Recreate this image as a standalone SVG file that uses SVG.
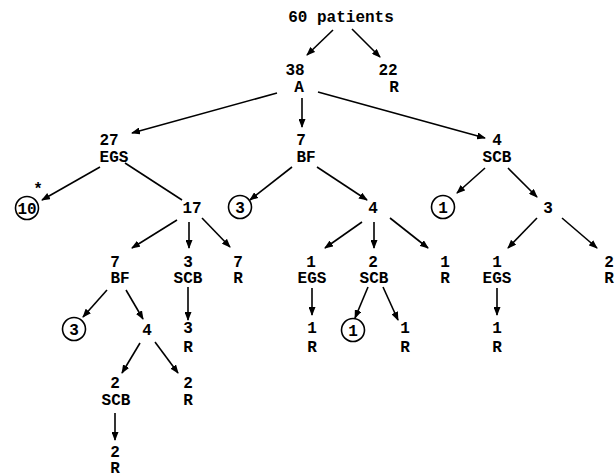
<svg xmlns="http://www.w3.org/2000/svg" width="616" height="474" viewBox="0 0 616 474">
<defs>
<marker id="ah" markerWidth="9" markerHeight="7" refX="8" refY="3.5" orient="auto" markerUnits="userSpaceOnUse">
<path d="M0,0 L9,3.5 L0,7 z" fill="#000"/>
</marker>
<style>
text{font-family:"Liberation Mono","Courier New",monospace;font-size:16px;font-weight:bold;fill:#000;text-anchor:middle}
.c{fill:none;stroke:#000;stroke-width:1.6}
#edges line{stroke:#000;stroke-width:1.6;marker-end:url(#ah)}
#edges line.p{marker-end:none}
</style>
</defs>
<rect width="616" height="474" fill="#fff"/>
<g id="edges">
<line x1="333" y1="30" x2="307" y2="55"/>
<line x1="352" y1="29" x2="380" y2="57"/>
<line x1="277" y1="93" x2="132" y2="133"/>
<line x1="302" y1="98" x2="302" y2="127"/>
<line x1="318" y1="92" x2="485" y2="138"/>
<line x1="100" y1="167" x2="42" y2="200"/>
<line class="p" x1="125" y1="163" x2="182" y2="200"/>
<line x1="292" y1="167" x2="250" y2="200"/>
<line x1="317" y1="167" x2="367" y2="200"/>
<line x1="485" y1="168" x2="457" y2="193"/>
<line x1="508" y1="168" x2="537" y2="197"/>
<line x1="177" y1="220" x2="132" y2="248"/>
<line x1="189" y1="222" x2="189" y2="248"/>
<line x1="202" y1="218" x2="230" y2="247"/>
<line x1="362" y1="222" x2="325" y2="248"/>
<line x1="374" y1="222" x2="374" y2="248"/>
<line x1="390" y1="218" x2="428" y2="248"/>
<line x1="537" y1="218" x2="508" y2="248"/>
<line x1="562" y1="218" x2="597" y2="248"/>
<line x1="107" y1="290" x2="83" y2="317"/>
<line x1="126" y1="290" x2="143" y2="319"/>
<line x1="188" y1="287" x2="188" y2="320"/>
<line x1="312" y1="288" x2="312" y2="315"/>
<line x1="368" y1="287" x2="355" y2="318"/>
<line x1="383" y1="287" x2="398" y2="320"/>
<line x1="497" y1="288" x2="497" y2="315"/>
<line x1="140" y1="343" x2="122" y2="373"/>
<line x1="155" y1="342" x2="178" y2="373"/>
<line x1="115" y1="413" x2="115" y2="440"/>
</g>
<g id="n-root"><text x="341" y="22">60 patients</text></g>
<g id="n-38A"><text x="295" y="75">38</text><text x="299" y="92">A</text></g>
<g id="n-22R"><text x="388" y="75">22</text><text x="394" y="92">R</text></g>
<g id="n-27EGS"><text x="109" y="145">27</text><text x="114" y="162">EGS</text></g>
<g id="n-7BF"><text x="301" y="145">7</text><text x="306" y="162">BF</text></g>
<g id="n-4SCB"><text x="497" y="145">4</text><text x="497" y="162">SCB</text></g>
<g id="n-10"><text x="38" y="194">*</text><circle class="c" cx="27" cy="208" r="11.5"/><text x="27" y="214">10</text></g>
<g id="n-17"><text x="192" y="213">17</text></g>
<g id="n-c3a"><circle class="c" cx="240" cy="207" r="11.5"/><text x="240" y="213">3</text></g>
<g id="n-4b"><text x="373" y="213">4</text></g>
<g id="n-c1a"><circle class="c" cx="443" cy="207" r="11.5"/><text x="443" y="213">1</text></g>
<g id="n-3b"><text x="548" y="213">3</text></g>
<g id="n-7BFb"><text x="115" y="267">7</text><text x="120" y="283">BF</text></g>
<g id="n-3SCB"><text x="188" y="267">3</text><text x="188" y="283">SCB</text></g>
<g id="n-7R"><text x="238" y="267">7</text><text x="238" y="283">R</text></g>
<g id="n-1EGSa"><text x="311" y="267">1</text><text x="312" y="283">EGS</text></g>
<g id="n-2SCBa"><text x="373" y="267">2</text><text x="374" y="283">SCB</text></g>
<g id="n-1Ra"><text x="445" y="267">1</text><text x="445" y="283">R</text></g>
<g id="n-1EGSb"><text x="497" y="267">1</text><text x="497" y="283">EGS</text></g>
<g id="n-2Ra"><text x="609" y="267">2</text><text x="609" y="283">R</text></g>
<g id="n-c3b"><circle class="c" cx="74" cy="329" r="11.5"/><text x="74" y="335">3</text></g>
<g id="n-4c"><text x="147" y="335">4</text></g>
<g id="n-3R"><text x="188" y="333">3</text><text x="188" y="352">R</text></g>
<g id="n-1Rb"><text x="312" y="333">1</text><text x="312" y="352">R</text></g>
<g id="n-c1b"><circle class="c" cx="353" cy="330" r="11.5"/><text x="353" y="336">1</text></g>
<g id="n-1Rc"><text x="405" y="333">1</text><text x="405" y="352">R</text></g>
<g id="n-1Rd"><text x="497" y="333">1</text><text x="497" y="352">R</text></g>
<g id="n-2SCBb"><text x="115" y="388">2</text><text x="116" y="405">SCB</text></g>
<g id="n-2Rb"><text x="188" y="388">2</text><text x="188" y="405">R</text></g>
<g id="n-2Rc"><text x="115" y="457">2</text><text x="115" y="473">R</text></g>
</svg>
